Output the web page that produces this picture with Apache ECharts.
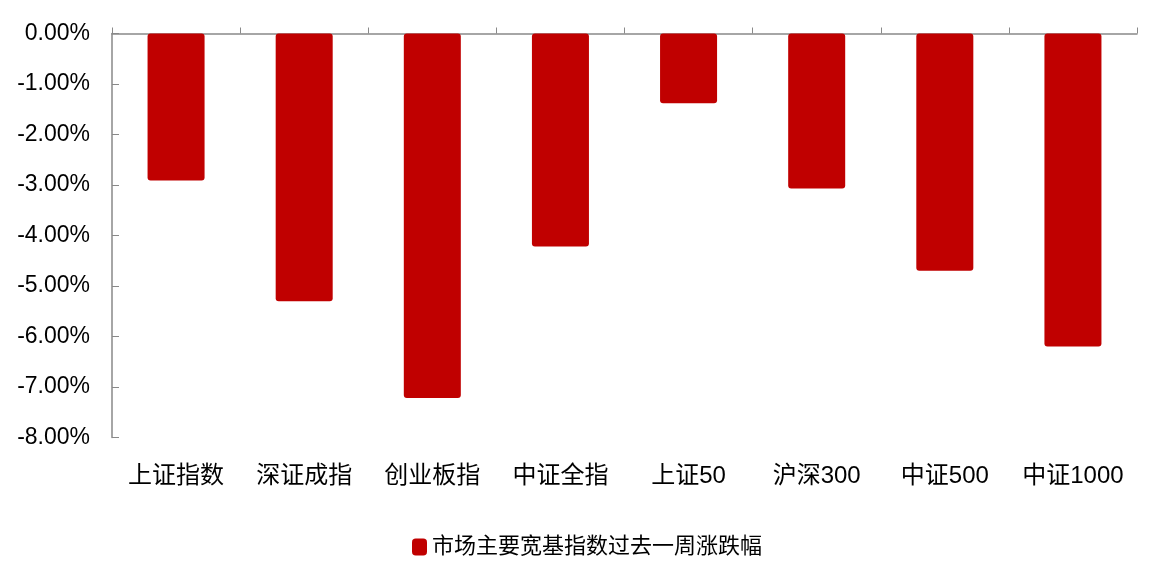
<!DOCTYPE html>
<html>
<head>
<meta charset="utf-8">
<script src="https://cdn.jsdelivr.net/npm/echarts@6/dist/echarts.min.js"></script>
<style>
  html, body { margin: 0; padding: 0; background: #fff; }
  #chart { width: 1158px; height: 564px; }
</style>
</head>
<body>
<div id="chart"></div>
<script>
const categories = ['上证指数', '深证成指', '创业板指', '中证全指', '上证50', '沪深300', '中证500', '中证1000']
const weeklyChange = [-2.91, -5.30, -7.22, -4.22, -1.38, -3.07, -4.70, -6.20]
const seriesName = '市场主要宽基指数过去一周涨跌幅'

const font = '"Liberation Sans", "Noto Sans CJK SC", sans-serif'
const axisGray = '#898989'
const barRed = '#C00000'

const chart = echarts.init(document.getElementById('chart'))

chart.setOption({
  backgroundColor: '#fff',
  animation: false,
  grid: { left: 112, right: 21, top: 33.5, bottom: 126.5 },
  legend: {
    bottom: 1,
    left: 407,
    itemWidth: 15,
    itemHeight: 17,
    itemGap: 4,
    icon: 'roundRect',
    textStyle: { color: '#000', fontSize: 22, fontFamily: font, padding: [0, 0, 0, 0] },
    data: [seriesName],
  },
  xAxis: [
    {
      type: 'category',
      data: categories,
      position: 'bottom',
      axisLine: { show: false },
      axisTick: { show: false },
      axisLabel: { color: '#000', fontSize: 24, fontFamily: font, margin: 27, interval: 0 },
    },
    {
      // zero line at the top of the grid, with category boundary ticks
      type: 'category',
      data: categories,
      position: 'top',
      axisLine: { show: true, lineStyle: { color: axisGray, width: 1.5 } },
      axisTick: { show: true, length: 6, interval: 0, lineStyle: { color: axisGray } },
      axisLabel: { show: false },
    },
  ],
  yAxis: {
    type: 'value',
    min: -8,
    max: 0,
    interval: 1,
    axisLine: { show: true, lineStyle: { color: axisGray, width: 1.5 } },
    axisTick: { show: true, inside: true, length: 7, lineStyle: { color: axisGray } },
    splitLine: { show: false },
    axisLabel: {
      color: '#000',
      fontSize: 23,
      fontFamily: font,
      margin: 22,
      formatter: v => v.toFixed(2) + '%',
    },
  },
  series: [
    {
      name: seriesName,
      type: 'bar',
      data: weeklyChange,
      barWidth: '44.5%',
      itemStyle: { color: barRed, borderRadius: 3 },
    },
  ],
})
</script>
</body>
</html>
